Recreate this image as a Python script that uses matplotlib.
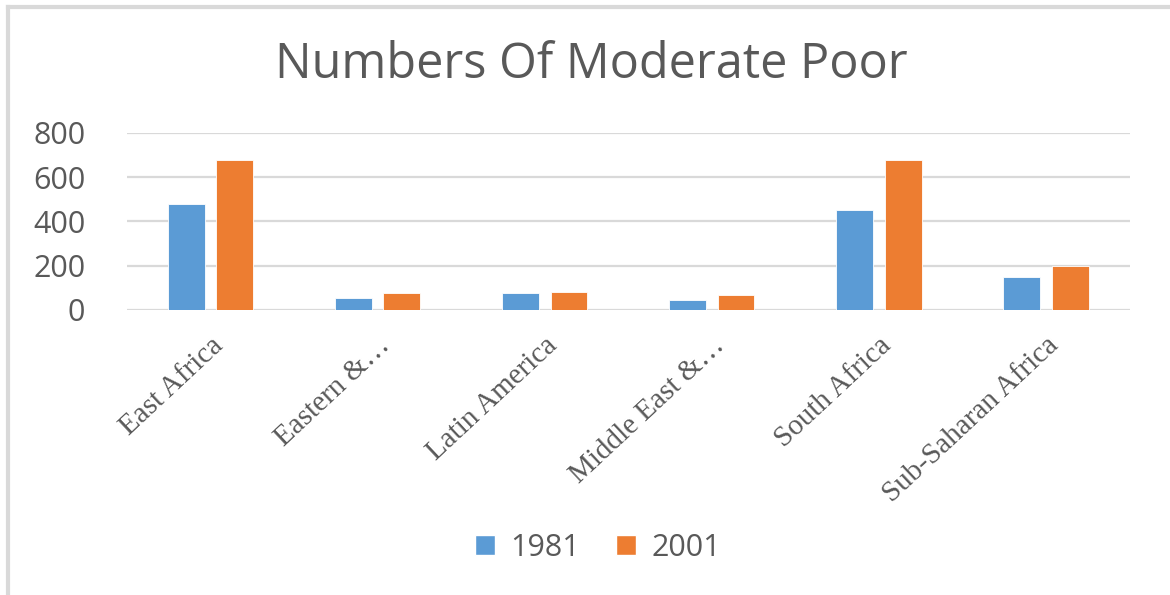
import matplotlib.pyplot as plt
import numpy as np
from matplotlib.patches import Patch
from matplotlib.lines import Line2D

regions = ["East Africa", "Eastern &\u2026", "Latin America",
           "Middle East &\u2026", "South Africa", "Sub-Saharan Africa"]
poor_1981 = [480, 53, 75, 47, 450, 150]
poor_2001 = [680, 75, 83, 69, 678, 200]
years = ["1981", "2001"]
yticks = [0, 200, 400, 600, 800]

BLUE = "#5B9BD5"
ORANGE = "#ED7D31"
TEXT = "#595959"
GRID = "#D9D9D9"


def main():
    fig = plt.figure(figsize=(11.7, 5.95), dpi=100)
    ax = fig.add_axes([0.1085, 0.479, 0.857, 0.2975])

    x = np.arange(len(regions))
    w = 0.22
    ax.bar(x - 0.145, poor_1981, w, color=BLUE, edgecolor="white", linewidth=0.6, zorder=3)
    ax.bar(x + 0.145, poor_2001, w, color=ORANGE, edgecolor="white", linewidth=0.6, zorder=3)

    ax.set_xlim(-0.5, len(regions) - 0.5)
    ax.set_ylim(0, 800)
    ax.set_yticks(yticks)
    ax.yaxis.grid(True, color=GRID, linewidth=1.6, zorder=0)
    ax.set_axisbelow(True)
    for s in ax.spines.values():
        s.set_visible(False)
    ax.tick_params(axis="y", length=0, pad=30, labelsize=22, labelcolor=TEXT)
    for lab in ax.get_yticklabels():
        lab.set_family("Open Sans")

    ax.set_xticks(x)
    ax.set_xticklabels(regions, rotation=43, ha="right", va="top",
                       rotation_mode="anchor", family="Liberation Serif",
                       fontsize=21, color=TEXT)
    ax.tick_params(axis="x", length=0, pad=16)

    # frame lines on the top and left edges, like the screenshot
    fig.add_artist(Line2D([0.0065, 0.0065], [0, 0.988], color=GRID, lw=3,
                          transform=fig.transFigure))
    fig.add_artist(Line2D([0.0065, 1], [0.988, 0.988], color=GRID, lw=3,
                          transform=fig.transFigure))

    fig.text(0.505, 0.89, "Numbers Of Moderate Poor", ha="center", va="center",
             family="Open Sans", fontsize=35, color=TEXT)

    handles = [Patch(facecolor=BLUE, edgecolor="white"),
               Patch(facecolor=ORANGE, edgecolor="white")]
    fig.legend(handles, years, loc="center", bbox_to_anchor=(0.511, 0.079),
               ncol=2, frameon=False, handlelength=0.65, handleheight=0.65,
               handletextpad=0.5, columnspacing=1.2,
               prop={"family": "Open Sans", "size": 22}, labelcolor=TEXT)

    fig.savefig("out.png", dpi=100, facecolor="white")
    plt.close(fig)


if __name__ == "__main__":
    main()
